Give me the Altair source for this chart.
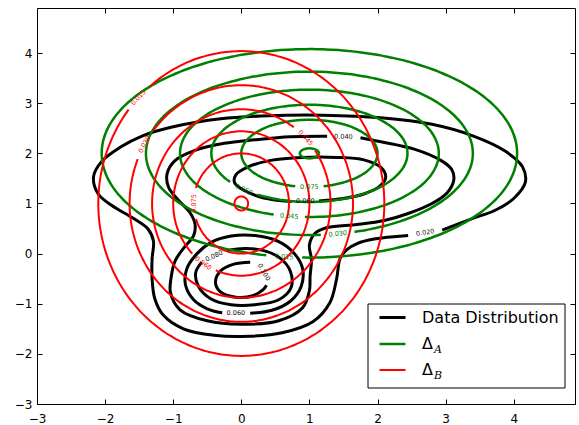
import numpy as np
import pandas as pd
import altair as alt

# ---------------- axes ----------------
XMIN, XMAX = -3.0, 4.9
YMIN, YMAX = -3.0, 4.9
W, H = 538, 396
SX = W / (XMAX - XMIN)
SY = H / (YMAX - YMIN)
X_TICKS = [-3, -2, -1, 0, 1, 2, 3, 4]
Y_TICKS = [-3, -2, -1, 0, 1, 2, 3, 4]

# ---------------- series ----------------
SERIES = ["Data Distribution", "Δ_A", "Δ_B"]
SERIES_COLORS = ["#000000", "#008000", "#ff0000"]
SERIES_WIDTHS = [3.0, 2.0, 2.0]
SUBSCRIPTS = ["A", "B"]

# ---------------- Δ_A (green) contour ellipses ----------------
LEVELS_AB = ["0.015", "0.030", "0.045", "0.060", "0.075", "0.090"]
GREEN_CENTER = (1.0, 2.0)
GREEN_SEMI_X = [3.05, 2.40, 1.90, 1.44, 1.00, 0.14]
GREEN_SEMI_Y = [2.08, 1.63, 1.27, 0.97, 0.67, 0.10]
GREEN_LABEL_DEG = [263, 280, 261, 228, 270, None]

# ---------------- Δ_B (red) contour ellipses ----------------
RED_CENTER = (0.0, 1.0)
RED_SEMI_X = [2.10, 1.64, 1.31, 1.00, 0.70, 0.10]
RED_SEMI_Y = [3.04, 2.36, 1.88, 1.44, 1.00, 0.14]
RED_LABEL_DEG = [136, 150, 44, 236, 180, None]

# ---------------- data distribution (black) contours, traced ----------------
BLACK_020 = [
    (2.95, 0.47), (3.37, 0.69), (3.72, 0.86), (4.00, 1.10), (4.17, 1.42), (4.13, 1.73),
    (3.88, 2.04), (3.40, 2.35), (2.80, 2.58), (2.05, 2.71), (1.20, 2.76), (0.40, 2.75),
    (-0.30, 2.69), (-1.00, 2.53), (-1.45, 2.35), (-1.78, 2.12), (-2.05, 1.84), (-2.17, 1.53),
    (-2.10, 1.19), (-1.90, 0.96), (-1.58, 0.70), (-1.37, 0.49), (-1.29, 0.25), (-1.31, -0.10),
    (-1.31, -0.50), (-1.27, -0.90), (-1.15, -1.22), (-0.85, -1.50), (-0.40, -1.63), (0.10, -1.65),
    (0.60, -1.58), (1.05, -1.36), (1.30, -0.98), (1.40, -0.50), (1.45, -0.10), (1.55, 0.08),
    (1.70, 0.20), (1.95, 0.29), (2.45, 0.36),
]
BLACK_040 = [
    (1.26, 2.34), (0.72, 2.33), (0.20, 2.27), (-0.25, 2.20), (-0.68, 2.06), (-0.97, 1.86),
    (-1.09, 1.59), (-1.07, 1.33), (-0.92, 1.06), (-0.76, 0.83), (-0.68, 0.59), (-0.70, 0.36),
    (-0.84, 0.12), (-0.97, -0.14), (-1.03, -0.47), (-1.04, -0.78), (-0.90, -1.12), (-0.50, -1.34),
    (0.00, -1.41), (0.55, -1.34), (0.90, -1.08), (1.00, -0.74), (1.01, -0.45), (1.03, -0.12),
    (1.00, 0.17), (1.08, 0.40), (1.26, 0.52), (1.70, 0.58), (2.10, 0.66), (2.45, 0.80),
    (2.80, 1.00), (3.02, 1.21), (3.12, 1.47), (3.09, 1.68), (2.93, 1.86), (2.55, 2.08),
    (2.05, 2.23), (1.75, 2.31),
]
BLACK_060_UPPER = [
    (1.14, 1.05), (1.50, 1.10), (1.80, 1.19), (2.03, 1.34), (2.12, 1.52), (2.05, 1.72),
    (1.80, 1.87), (1.40, 1.92), (0.90, 1.92), (0.43, 1.86), (0.10, 1.73), (-0.08, 1.57),
    (-0.10, 1.42), (0.03, 1.27), (0.28, 1.13), (0.55, 1.06), (0.74, 1.04),
]
BLACK_060_LOWER = [
    (0.13, -1.19), (0.45, -1.13), (0.72, -0.95), (0.88, -0.65), (0.90, -0.30), (0.78, 0.00),
    (0.55, 0.24), (0.20, 0.36), (-0.15, 0.35), (-0.45, 0.22), (-0.65, 0.00), (-0.80, -0.30),
    (-0.82, -0.62), (-0.70, -0.92), (-0.50, -1.10), (-0.28, -1.18),
]
BLACK_080 = [
    (-0.22, 0.06), (0.05, 0.10), (0.30, 0.07), (0.55, -0.07), (0.72, -0.35), (0.73, -0.68),
    (0.55, -0.92), (0.20, -1.02), (-0.15, -1.02), (-0.45, -0.90), (-0.63, -0.65), (-0.67, -0.38),
    (-0.58, -0.17),
]
BLACK_100 = [
    (0.13, -0.17), (-0.11, -0.21), (-0.30, -0.34), (-0.38, -0.56), (-0.31, -0.76), (-0.08, -0.87),
    (0.17, -0.84), (0.32, -0.72), (0.37, -0.63),
]
BLACK_LABELS = ["0.020", "0.040", "0.060", "0.060", "0.080", "0.100"]
BLACK_LABEL_X = [2.70, 1.50, 0.94, -0.08, -0.40, 0.33]
BLACK_LABEL_Y = [0.42, 2.33, 1.04, -1.19, -0.05, -0.37]
BLACK_LABEL_ANGLE = [351, 2, 0, 0, 335, 60]

LABEL_GAP_PX = 14

# ---------------- build tables ----------------
line_rows = []
label_rows = []


def add_path(series, seg_id, pts):
    for i, (x, y) in enumerate(pts):
        line_rows.append({"series": series, "seg": seg_id, "i": i, "x": float(x), "y": float(y)})


def norm_angle(a):
    while a > 90:
        a -= 180
    while a <= -90:
        a += 180
    return a % 360


def add_ellipses(series, color, center, semi_x, semi_y, label_deg, tag):
    cx, cy = center
    th = np.deg2rad(np.arange(0, 360, 2.0))
    for k, (ax, ay) in enumerate(zip(semi_x, semi_y)):
        xs = cx + ax * np.cos(th)
        ys = cy + ay * np.sin(th)
        keep = np.ones(len(th), dtype=bool)
        deg = label_deg[k]
        if deg is not None:
            t = np.deg2rad(deg)
            lx, ly = cx + ax * np.cos(t), cy + ay * np.sin(t)
            keep &= np.hypot((xs - lx) * SX, (ys - ly) * SY) > LABEL_GAP_PX
            ang = np.degrees(np.arctan2(-ay * np.cos(t) * SY, -ax * np.sin(t) * SX))
            label_rows.append({"x": lx, "y": ly, "text": LEVELS_AB[k],
                               "angle": norm_angle(ang), "col": color})
        if keep.all():
            add_path(series, f"{tag}{k}", list(zip(np.append(xs, xs[0]), np.append(ys, ys[0]))))
            continue
        start = int(np.argmin(keep))
        order = np.roll(np.arange(len(th)), -start)
        segs, cur = [], []
        for j in order:
            if keep[j]:
                cur.append((xs[j], ys[j]))
            else:
                if len(cur) > 1:
                    segs.append(cur)
                cur = []
        if len(cur) > 1:
            segs.append(cur)
        for s, pts in enumerate(segs):
            add_path(series, f"{tag}{k}_{s}", pts)


for name, pts in [("b020", BLACK_020), ("b040", BLACK_040), ("b060u", BLACK_060_UPPER),
                  ("b060l", BLACK_060_LOWER), ("b080", BLACK_080), ("b100", BLACK_100)]:
    add_path(SERIES[0], name, pts)
for t, x, y, a in zip(BLACK_LABELS, BLACK_LABEL_X, BLACK_LABEL_Y, BLACK_LABEL_ANGLE):
    label_rows.append({"x": x, "y": y, "text": t, "angle": a, "col": "#111111"})

add_ellipses(SERIES[1], SERIES_COLORS[1], GREEN_CENTER, GREEN_SEMI_X, GREEN_SEMI_Y, GREEN_LABEL_DEG, "g")
add_ellipses(SERIES[2], SERIES_COLORS[2], RED_CENTER, RED_SEMI_X, RED_SEMI_Y, RED_LABEL_DEG, "r")

lines_df = pd.DataFrame(line_rows)
labels_df = pd.DataFrame(label_rows)

# ---------------- chart ----------------
x_scale = alt.Scale(domain=[XMIN, XMAX], nice=False, zero=False)
y_scale = alt.Scale(domain=[YMIN, YMAX], nice=False, zero=False)


def main_axis(orient, values, pad):
    return alt.Axis(orient=orient, values=values, offset=-5, tickSize=5, tickColor="black",
                    tickWidth=1, domain=False, grid=False, labelFont="DejaVu Sans",
                    labelFontSize=12, labelColor="black", labelPadding=pad,
                    labelFlush=False, labelOverlap=False, format="d", title=None)


def tick_axis(orient, values):
    return alt.Axis(orient=orient, values=values, offset=-5, tickSize=5, tickColor="black",
                    tickWidth=1, domain=False, grid=False, labels=False, title=None)


legend = alt.Legend(
    title=None, orient="none", legendX=341, legendY=295, direction="vertical",
    symbolType="stroke", symbolSize=676, labelFont="DejaVu Sans", labelFontSize=16,
    labelColor="black", labelOffset=15, padding=0, rowPadding=3.5,
    labelExpr="datum.label == 'Data Distribution' ? datum.label : 'Δ'",
)
color_enc = alt.Color("series:N", scale=alt.Scale(domain=SERIES, range=SERIES_COLORS), legend=legend)
width_enc = alt.StrokeWidth("series:N", scale=alt.Scale(domain=SERIES, range=SERIES_WIDTHS), legend=legend)

line_layers = []
for s in SERIES:
    line_layers.append(
        alt.Chart(lines_df[lines_df["series"] == s])
        .mark_line(interpolate="catmull-rom", strokeCap="butt", strokeJoin="round")
        .encode(
            x=alt.X("x:Q", scale=x_scale, axis=main_axis("bottom", X_TICKS, 9)),
            y=alt.Y("y:Q", scale=y_scale, axis=main_axis("left", Y_TICKS, 5)),
            detail="seg:N",
            order="i:Q",
            color=color_enc,
            strokeWidth=width_enc,
        )
    )
lines_group = alt.layer(*line_layers)

labels_layer = (
    alt.Chart(labels_df)
    .mark_text(font="DejaVu Sans", fontSize=6.5, align="center", baseline="middle")
    .encode(
        x=alt.X("x:Q", scale=x_scale, axis=tick_axis("top", X_TICKS)),
        y=alt.Y("y:Q", scale=y_scale, axis=tick_axis("right", Y_TICKS)),
        text="text:N",
        angle=alt.Angle("angle:Q", scale=None),
        color=alt.Color("col:N", scale=None),
    )
)

# legend frame (decoration drawn behind the legend entries)
legend_box = alt.Chart(pd.DataFrame({"k": [0]})).mark_rect(
    fill="white", stroke="black", strokeWidth=1
).encode(x=alt.value(331), x2=alt.value(528), y=alt.value(296), y2=alt.value(380))

sub_a = alt.Chart(pd.DataFrame({"t": [SUBSCRIPTS[0]]})).mark_text(
    font="DejaVu Serif", fontStyle="italic", fontSize=11, align="left", baseline="alphabetic", color="black"
).encode(text="t:N", x=alt.value(397), y=alt.value(345))
sub_b = alt.Chart(pd.DataFrame({"t": [SUBSCRIPTS[1]]})).mark_text(
    font="DejaVu Serif", fontStyle="italic", fontSize=11, align="left", baseline="alphabetic", color="black"
).encode(text="t:N", x=alt.value(397), y=alt.value(371))

chart = (
    alt.layer(lines_group, labels_layer, legend_box, sub_a, sub_b)
    .resolve_axis(x="independent", y="independent")
    .properties(width=W, height=H, autosize="none",
                padding={"left": 37, "top": 8, "right": 4, "bottom": 21})
    .configure_view(stroke="black", strokeWidth=1)
)

chart.save("out.html", embed_options={"renderer": "svg", "actions": False})
